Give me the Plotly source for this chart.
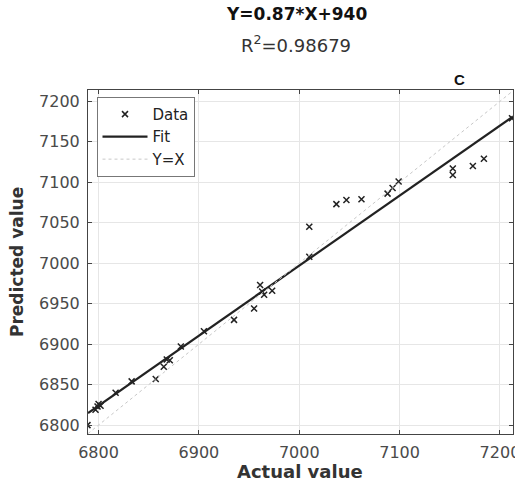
import plotly.graph_objects as go

actual = [6789, 6797, 6799, 6800, 6802, 6817, 6833, 6857, 6865, 6868, 6871, 6882,
          6905, 6935, 6955, 6961, 6963, 6965, 6973, 7010, 7010, 7037, 7047, 7062,
          7088, 7093, 7099, 7153, 7153, 7173, 7184, 7212]
predicted = [6800, 6819, 6823, 6826, 6824, 6840, 6854, 6857, 6872, 6881, 6880, 6897,
             6916, 6930, 6944, 6973, 6965, 6961, 6966, 7045, 7008, 7073, 7078, 7079,
             7086, 7093, 7101, 7117, 7109, 7120, 7129, 7179]

fit_slope = 0.865
fit_intercept = 942
x_range = [6789.5, 7213]
y_range = [6789, 7214]
tick_vals_x = [6800, 6900, 7000, 7100, 7200]
tick_vals_y = [6800, 6850, 6900, 6950, 7000, 7050, 7100, 7150, 7200]

fit_x = x_range
fit_y = [fit_slope * v + fit_intercept for v in fit_x]

font = "DejaVu Sans, Liberation Sans, Arial, sans-serif"
fig = go.Figure()
fig.add_trace(go.Scatter(x=actual, y=predicted, mode="markers", name="Data",
                         marker=dict(symbol="x-thin-open", size=6, color="#222",
                                     line=dict(color="#222", width=1.5))))
fig.add_trace(go.Scatter(x=fit_x, y=fit_y, mode="lines", name="Fit",
                         line=dict(color="#222", width=2.2)))
fig.add_trace(go.Scatter(x=x_range, y=x_range, mode="lines", name="Y=X",
                         line=dict(color="#c8c8c8", width=1, dash="dot")))

axis_common = dict(showline=True, linecolor="#444", linewidth=1, mirror="ticks",
                   ticks="inside", ticklen=4, tickcolor="#444", automargin=False,
                   ticklabeloverflow="allow",
                   showgrid=True, gridcolor="#e6e6e6", gridwidth=1, zeroline=False,
                   tickfont=dict(family=font, size=16, color="#4a4a4a"))
fig.update_xaxes(range=x_range, tickvals=tick_vals_x, ticklabelstandoff=4, **axis_common)
fig.update_yaxes(range=y_range, tickvals=tick_vals_y, ticklabelstandoff=4, **axis_common)

fig.add_annotation(text="<b>Actual value</b>", xref="paper", yref="paper", x=0.499, y=-0.108,
                   xanchor="center", yanchor="middle", showarrow=False,
                   font=dict(family=font, size=18, color="#333"))
fig.add_annotation(text="<b>Predicted value</b>", xref="paper", yref="paper", x=-0.167, y=0.5,
                   xanchor="center", yanchor="middle", textangle=-90, showarrow=False,
                   font=dict(family=font, size=17, color="#333"))
fig.add_annotation(text="<b>Y=0.87*X+940</b>", xref="paper", yref="paper", x=0.49, y=1.221,
                   yanchor="middle", showarrow=False, font=dict(family=font, size=17, color="#111"))
fig.add_annotation(text="R<sup>2</sup>=0.98679", xref="paper", yref="paper", x=0.49, y=1.134,
                   yanchor="middle", showarrow=False, font=dict(family=font, size=18, color="#333"))
fig.add_annotation(text="<b>C</b>", xref="paper", yref="paper", x=0.892, y=1.03,
                   yanchor="middle", showarrow=False,
                   font=dict(family="Liberation Sans, Arial, sans-serif", size=15, color="#111"))

fig.update_layout(width=515, height=486, paper_bgcolor="white", plot_bgcolor="white",
                  margin=dict(l=88, r=2, t=90, b=52),
                  showlegend=True,
                  legend=dict(x=0.02, y=0.98, xanchor="left", yanchor="top",
                              bgcolor="white", bordercolor="#777", borderwidth=1,
                              font=dict(family=font, size=15, color="#222"),
                              tracegroupgap=0, itemwidth=45))
fig.write_html("out.html", config={"displayModeBar": False},
               post_script="document.body.style.margin='0';")
